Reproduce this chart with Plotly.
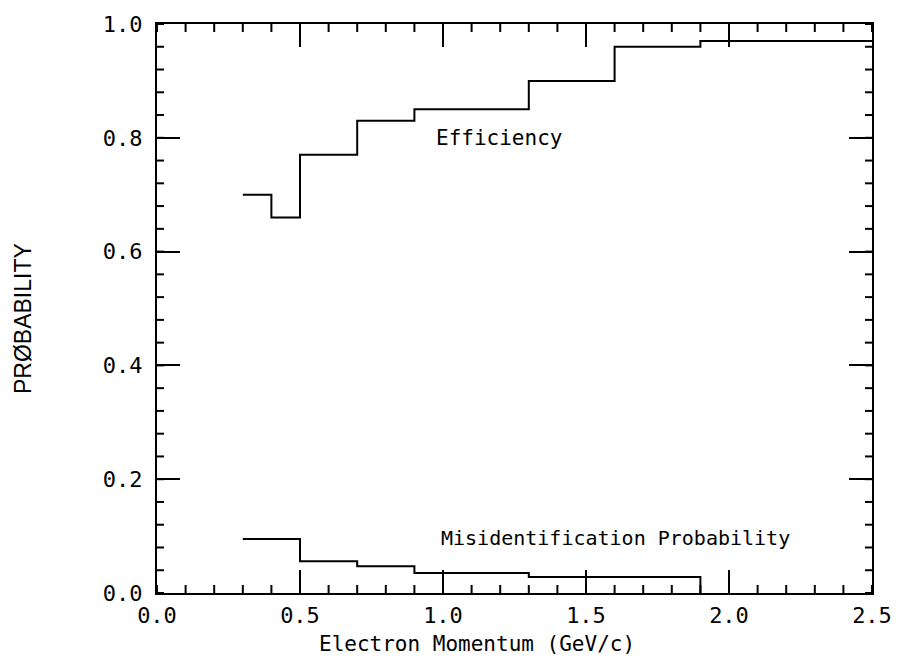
import numpy as np
import plotly.graph_objects as go

# Bin edges (GeV/c) and per-bin values for each histogram
eff_edges = [0.3, 0.4, 0.5, 0.7, 0.9, 1.3, 1.6, 1.9, 2.5]
eff_values = [0.70, 0.66, 0.77, 0.83, 0.85, 0.90, 0.96, 0.97]

mis_edges = [0.3, 0.5, 0.7, 0.9, 1.3, 1.9]
mis_values = [0.095, 0.056, 0.047, 0.035, 0.028]

# Axis ranges and tick spacing (major, minor)
x_range = [0.0, 2.5]
x_major, x_minor = 0.5, 0.1
y_range = [0.0, 1.0]
y_major, y_minor = 0.2, 0.04


def step_path(edges, values, close_to_zero=False):
    """Turn bin edges/values into an open step outline."""
    xs, ys = [], []
    for i, v in enumerate(values):
        xs += [edges[i], edges[i + 1]]
        ys += [v, v]
    if close_to_zero:
        xs.append(edges[-1])
        ys.append(0.0)
    return xs, ys


ex, ey = step_path(eff_edges, eff_values)
mx, my = step_path(mis_edges, mis_values, close_to_zero=True)

line_style = dict(color="black", width=2)
mono = "DejaVu Sans Mono"

fig = go.Figure()
fig.add_trace(go.Scatter(x=ex, y=ey, mode="lines", line=line_style,
                         hoverinfo="skip", showlegend=False))
fig.add_trace(go.Scatter(x=mx, y=my, mode="lines", line=line_style,
                         hoverinfo="skip", showlegend=False))

frame = dict(showline=True, linecolor="black", linewidth=2,
             mirror="allticks", showgrid=False, zeroline=False,
             ticks="inside", tickwidth=2, tickcolor="black")

fig.update_layout(
    xaxis=dict(
        range=x_range, tickmode="linear", tick0=0, dtick=x_major,
        ticklen=23, tickformat=".1f", ticklabelstandoff=2,
        tickfont=dict(family=mono, size=22, color="black"),
        **frame,
    ),
    yaxis=dict(
        range=y_range, tickmode="linear", tick0=0, dtick=y_major,
        ticklen=23, tickformat=".1f", ticklabelstandoff=8,
        tickfont=dict(family=mono, size=22, color="black"),
        **frame,
    ),
)

# Minor ticks on all four sides of the frame, drawn as short pixel-length
# segments anchored at axis positions
xm = np.round(np.arange(x_range[0], x_range[1] + 1e-9, x_minor), 3)
ym = np.round(np.arange(y_range[0], y_range[1] + 1e-9, y_minor), 3)
tick_line = dict(color="black", width=2)

for xv in xm:
    for edge, length in ((0, 8), (1, -8)):
        fig.add_shape(type="line", xref="x", yref="y domain",
                      ysizemode="pixel", yanchor=edge,
                      x0=xv, x1=xv, y0=0, y1=length, line=tick_line)
for yv in ym:
    for edge, length in ((0, 7), (1, -7)):
        fig.add_shape(type="line", xref="x domain", yref="y",
                      xsizemode="pixel", xanchor=edge,
                      x0=0, x1=length, y0=yv, y1=yv, line=tick_line)

fig.add_annotation(x=0.97, y=0.80, xref="x", yref="y", text="Efficiency",
                   showarrow=False, xanchor="left", yanchor="middle",
                   font=dict(family=mono, size=21, color="black"))
fig.add_annotation(x=0.985, y=0.096, xref="x", yref="y",
                   text="Misidentification Probability",
                   showarrow=False, xanchor="left", yanchor="middle",
                   font=dict(family=mono, size=20, color="black"))

# Axis titles
fig.add_annotation(x=(480 - 157) / 721, y=(593 - 645) / 575,
                   xref="paper", yref="paper",
                   text="Electron Momentum (GeV/c)", showarrow=False,
                   xanchor="center", yanchor="middle",
                   font=dict(family=mono, size=21, color="black"))
fig.add_annotation(x=(22 - 157) / 721, y=(593 - 316) / 575,
                   xref="paper", yref="paper",
                   text="PRØBABILITY", showarrow=False, textangle=-90,
                   xanchor="center", yanchor="middle",
                   font=dict(family="Liberation Sans", size=23, color="black"))

fig.update_layout(
    width=904, height=659,
    margin=dict(l=157, r=26, t=18, b=66),
    paper_bgcolor="white", plot_bgcolor="white",
)

fig.write_html("out.html")
